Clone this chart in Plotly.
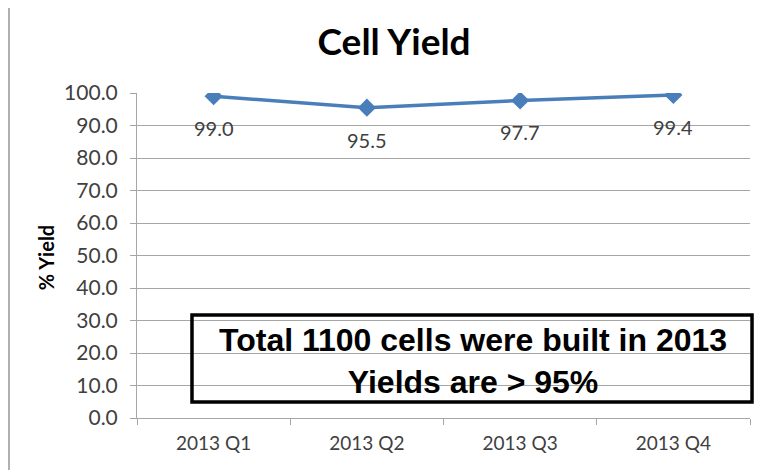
import plotly.graph_objects as go

quarters = ["2013 Q1", "2013 Q2", "2013 Q3", "2013 Q4"]
yield_pct = [99.0, 95.5, 97.7, 99.4]
y_ticks = [0, 10, 20, 30, 40, 50, 60, 70, 80, 90, 100]

blue = "#4A7EBB"
grid = "#A6A6A6"
txt = "#404040"

fig = go.Figure()
fig.add_trace(go.Scatter(
    x=quarters, y=yield_pct, mode="lines+markers",
    line=dict(color=blue, width=3.5),
    marker=dict(symbol="diamond", size=14, color=blue),
    hoverinfo="x+y", showlegend=False,
))

# data labels below each point
for q, v in zip(quarters, yield_pct):
    fig.add_annotation(x=q, y=v, text=f"{v:.1f}", showarrow=False,
                       yshift=-32, font=dict(family="Lato", size=20, color=txt))

# text box
fig.add_shape(type="rect", xref="paper", yref="y", x0=0.0897, x1=1.0033, y0=4.9, y1=31.7,
              line=dict(color="black", width=3.5), fillcolor="rgba(0,0,0,0)")
fig.add_annotation(xref="paper", yref="y", x=0.548, y=17.4, showarrow=False,
                   text="<b>Total 1100 cells were built in 2013<br>Yields are > 95%</b>",
                   font=dict(family="Liberation Sans", size=32, color="black"),
                   align="center")

# y axis title
fig.add_annotation(xref="paper", yref="paper", x=-0.171, y=0.492, showarrow=False,
                   text="<b>% Yield</b>", textangle=-90,
                   font=dict(family="Lato", size=20, color="black"))

# outer chart frame
fig.add_shape(type="rect", xref="paper", yref="paper", x0=-0.2088, x1=1.08, y0=-0.25, y1=1.277,
              line=dict(color="#B0B0B0", width=2), layer="below")

fig.update_layout(
    width=763, height=470,
    margin=dict(l=129, r=21, t=85, b=60),
    paper_bgcolor="white", plot_bgcolor="white",
    title=dict(text="<b>Cell Yield</b>", x=0.506, xref="container", xanchor="center",
               y=0.9277, yref="container", yanchor="middle",
               font=dict(family="Lato", size=37, color="black")),
    font=dict(family="Lato", size=20, color=txt),
)
fig.update_xaxes(
    type="category", tickson="boundaries", ticks="outside", ticklen=6,
    tickcolor=grid, showline=True, linecolor=grid, linewidth=1,
    showgrid=False, range=[-0.5, 3.5], automargin=False,
    ticklabelstandoff=8, tickfont=dict(size=19, color=txt),
)
fig.update_yaxes(
    range=[0, 100], tickvals=y_ticks, tickformat=".1f",
    ticks="outside", ticklen=6, tickcolor=grid,
    showline=True, linecolor=grid, linewidth=1,
    showgrid=True, gridcolor=grid, gridwidth=1, zeroline=False,
    automargin=False, ticklabelstandoff=8,
    tickfont=dict(size=21, color=txt),
)

fig.write_html("out.html")
